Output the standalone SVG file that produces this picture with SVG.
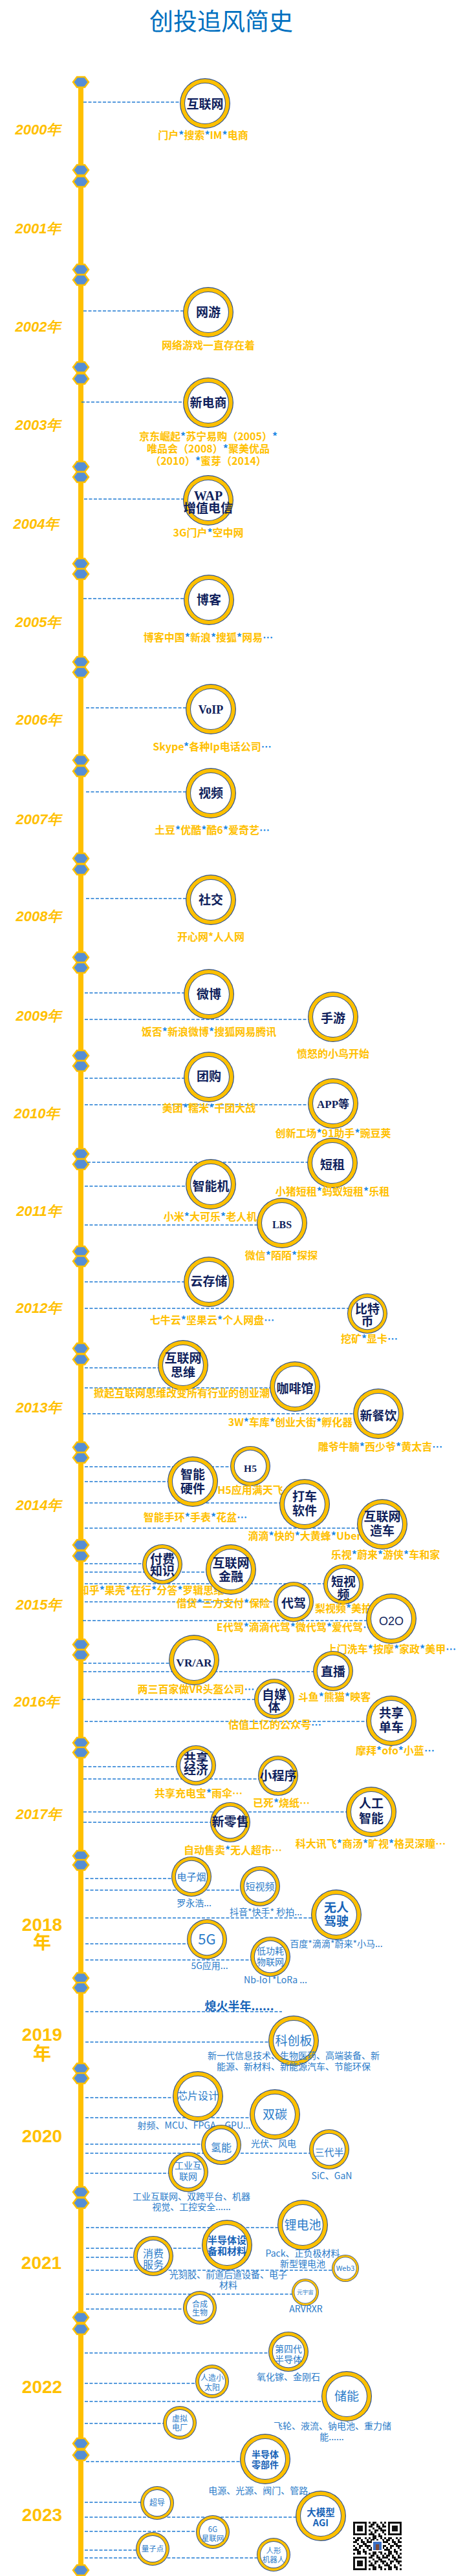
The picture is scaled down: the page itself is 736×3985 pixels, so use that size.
<svg xmlns="http://www.w3.org/2000/svg" xmlns:xlink="http://www.w3.org/1999/xlink" width="736" height="3985" viewBox="0 0 736 3985">
<style>
.ax{stroke:#FFC000;stroke-width:8}
#connectors line{stroke:#1E7AD2;stroke-width:1.6;stroke-dasharray:5 2.5;fill:none}
.hx{fill:#558ED5;stroke:#FFC000;stroke-width:2.5}
.yr{font-family:"Liberation Sans",sans-serif;font-style:italic;font-weight:bold;font-size:22px;fill:#FFC000;text-anchor:middle}
.yb{font-family:"Liberation Sans","Noto Sans CJK SC",sans-serif;font-weight:bold;font-size:28px;fill:#FFC000;text-anchor:middle}
.t{font-family:"Noto Sans CJK SC",sans-serif;font-weight:bold;fill:#0F1F5C;text-anchor:middle;font-size:19px}
.ts{font-family:"Liberation Serif","Noto Sans CJK SC",serif;font-weight:bold;fill:#0F1F5C;text-anchor:middle}
.s{font-family:"Noto Sans CJK SC",sans-serif;font-weight:bold;font-size:16px;fill:#FFC000;text-anchor:middle}
.b{fill:#1E88E5}
.bt{font-family:"Noto Sans CJK SC",sans-serif;fill:#2A7BC9;text-anchor:middle}
.bb{font-family:"Noto Sans CJK SC",sans-serif;font-weight:bold;fill:#1763B8;text-anchor:middle}
.bs{font-family:"Noto Sans CJK SC",sans-serif;font-size:14px;fill:#2A7BC9;text-anchor:middle}
</style>
<defs>
<polygon id="hx" class="hx" points="-12,0 -6,-8 6,-8 12,0 6,8 -6,8"/>
<g id="rL"><circle r="39" fill="#2F528F"/><circle r="37.8" fill="#FFC000"/><circle r="32" fill="#2F528F"/><circle r="31" fill="#fff"/></g>
<g id="rM"><circle r="31" fill="#2F528F"/><circle r="29.9" fill="#FFC000"/><circle r="25.2" fill="#2F528F"/><circle r="24.2" fill="#fff"/></g>
<g id="rS"><circle r="26" fill="#2F528F"/><circle r="25" fill="#FFC000"/><circle r="21" fill="#2F528F"/><circle r="20.1" fill="#fff"/></g>
<g id="rX"><circle r="21" fill="#2F528F"/><circle r="20.2" fill="#FFC000"/><circle r="17.4" fill="#2F528F"/><circle r="16.7" fill="#fff"/></g>
<pattern id="qrp" x="546" y="3901" width="24" height="24" patternUnits="userSpaceOnUse">
<path fill="#111" d="M0 0h3v3h-3zM6 0h6v3h-6zM18 0h3v3h-3zM3 3h6v3h-6zM12 3h3v3h-3zM21 3h3v3h-3zM0 6h6v3h-6zM12 6h6v3h-6zM21 6h3v3h-3zM6 9h3v3h-3zM15 9h6v3h-6zM0 12h3v3h-3zM9 12h6v3h-6zM18 12h6v3h-6zM3 15h3v3h-3zM9 15h3v3h-3zM21 15h3v3h-3zM0 18h9v3h-9zM15 18h3v3h-3zM6 21h6v3h-6zM15 21h6v3h-6z"/>
</pattern>
</defs>

<text x="342" y="47" font-family="'Noto Sans CJK SC',sans-serif" font-size="37" fill="#0070C0" text-anchor="middle">创投追风简史</text>

<g id="axis">
<line class="ax" x1="125" y1="127" x2="125" y2="3976"/>
<use href="#hx" x="125" y="127"/>
<use href="#hx" x="125" y="263"/><use href="#hx" x="125" y="281"/>
<use href="#hx" x="125" y="417"/><use href="#hx" x="125" y="433"/>
<use href="#hx" x="125" y="568"/><use href="#hx" x="125" y="586"/>
<use href="#hx" x="125" y="722"/><use href="#hx" x="125" y="738"/>
<use href="#hx" x="125" y="872"/><use href="#hx" x="125" y="888"/>
<use href="#hx" x="125" y="1024"/><use href="#hx" x="125" y="1040"/>
<use href="#hx" x="125" y="1176"/><use href="#hx" x="125" y="1193"/>
<use href="#hx" x="125" y="1328"/><use href="#hx" x="125" y="1345"/>
<use href="#hx" x="125" y="1481"/><use href="#hx" x="125" y="1497"/>
<use href="#hx" x="125" y="1633"/><use href="#hx" x="125" y="1649"/>
<use href="#hx" x="125" y="1785"/><use href="#hx" x="125" y="1801"/>
<use href="#hx" x="125" y="1936"/><use href="#hx" x="125" y="1951"/>
<use href="#hx" x="125" y="2086"/><use href="#hx" x="125" y="2103"/>
<use href="#hx" x="125" y="2239"/><use href="#hx" x="125" y="2255"/>
<use href="#hx" x="125" y="2390"/><use href="#hx" x="125" y="2407"/>
<use href="#hx" x="125" y="2544"/><use href="#hx" x="125" y="2560"/>
<use href="#hx" x="125" y="2696"/><use href="#hx" x="125" y="2711"/>
<use href="#hx" x="125" y="2871"/><use href="#hx" x="125" y="2885"/>
<use href="#hx" x="125" y="3060"/><use href="#hx" x="125" y="3075"/>
<use href="#hx" x="125" y="3200"/><use href="#hx" x="125" y="3215"/>
<use href="#hx" x="125" y="3391"/><use href="#hx" x="125" y="3408"/>
<use href="#hx" x="125" y="3585"/><use href="#hx" x="125" y="3603"/>
<use href="#hx" x="125" y="3780"/><use href="#hx" x="125" y="3798"/>
<use href="#hx" x="125" y="3976"/>
</g>

<g id="years">
<text class="yr" x="59" y="208">2000年</text>
<text class="yr" x="59" y="361">2001年</text>
<text class="yr" x="59" y="513">2002年</text>
<text class="yr" x="59" y="665">2003年</text>
<text class="yr" x="56" y="818">2004年</text>
<text class="yr" x="59" y="970">2005年</text>
<text class="yr" x="60" y="1121">2006年</text>
<text class="yr" x="60" y="1275">2007年</text>
<text class="yr" x="60" y="1425">2008年</text>
<text class="yr" x="60" y="1579">2009年</text>
<text class="yr" x="57" y="1730">2010年</text>
<text class="yr" x="60" y="1881">2011年</text>
<text class="yr" x="60" y="2031">2012年</text>
<text class="yr" x="60" y="2185">2013年</text>
<text class="yr" x="60" y="2336">2014年</text>
<text class="yr" x="60" y="2490">2015年</text>
<text class="yr" x="57" y="2640">2016年</text>
<text class="yr" x="60" y="2814">2017年</text>
<text class="yb" x="65" y="2987">2018</text><text class="yb" x="65" y="3015">年</text>
<text class="yb" x="65" y="3157">2019</text><text class="yb" x="65" y="3187">年</text>
<text class="yb" x="65" y="3314">2020</text>
<text class="yb" x="64" y="3510">2021</text>
<text class="yb" x="65" y="3702">2022</text>
<text class="yb" x="65" y="3900">2023</text>
</g>

<g id="connectors">
<line x1="129" y1="158" x2="317" y2="158"/>
<line x1="129" y1="481" x2="322" y2="481"/>
<line x1="126" y1="622" x2="322" y2="622"/>
<line x1="130" y1="772" x2="322" y2="772"/>
<line x1="129" y1="926" x2="323" y2="926"/>
<line x1="133" y1="1095" x2="326" y2="1095"/>
<line x1="133" y1="1225" x2="326" y2="1225"/>
<line x1="133" y1="1390" x2="326" y2="1390"/>
<line x1="131" y1="1536" x2="323" y2="1536"/>
<line x1="131" y1="1577" x2="515" y2="1577"/>
<line x1="131" y1="1668" x2="323" y2="1668"/>
<line x1="131" y1="1709" x2="515" y2="1709"/>
<line x1="135" y1="1798" x2="514" y2="1798"/>
<line x1="131" y1="1835" x2="326" y2="1835"/>
<line x1="131" y1="1895" x2="436" y2="1895"/>
<line x1="131" y1="1983" x2="323" y2="1983"/>
<line x1="131" y1="2024" x2="568" y2="2024"/>
<line x1="131" y1="2116" x2="283" y2="2116"/>
<line x1="131" y1="2147" x2="456" y2="2147"/>
<line x1="128" y1="2187" x2="585" y2="2187"/>
<line x1="131" y1="2269" x2="387" y2="2269"/>
<line x1="131" y1="2292" x2="298" y2="2292"/>
<line x1="131" y1="2325" x2="471" y2="2325"/>
<line x1="131" y1="2364" x2="591" y2="2364"/>
<line x1="131" y1="2419" x2="251" y2="2419"/>
<line x1="131" y1="2432" x2="357" y2="2432"/>
<line x1="131" y1="2450" x2="531" y2="2450"/>
<line x1="131" y1="2478" x2="454" y2="2478"/>
<line x1="128" y1="2507" x2="605" y2="2507"/>
<line x1="129" y1="2573" x2="300" y2="2573"/>
<line x1="129" y1="2586" x2="515" y2="2586"/>
<line x1="127" y1="2629" x2="424" y2="2629"/>
<line x1="131" y1="2663" x2="605" y2="2663"/>
<line x1="129" y1="2733" x2="303" y2="2733"/>
<line x1="129" y1="2752" x2="430" y2="2752"/>
<line x1="129" y1="2803" x2="574" y2="2803"/>
<line x1="129" y1="2819" x2="356" y2="2819"/>
<line x1="132" y1="2906" x2="296" y2="2906"/>
<line x1="132" y1="2924" x2="402" y2="2924"/>
<line x1="132" y1="2967" x2="520" y2="2967"/>
<line x1="132" y1="3007" x2="320" y2="3007"/>
<line x1="132" y1="3032" x2="418" y2="3032"/>
<line x1="132" y1="3112" x2="436" y2="3112"/>
<line x1="132" y1="3159" x2="454" y2="3159"/>
<line x1="132" y1="3245" x2="306" y2="3245"/>
<line x1="132" y1="3276" x2="425" y2="3276"/>
<line x1="132" y1="3317" x2="342" y2="3317"/>
<line x1="132" y1="3331" x2="509" y2="3331"/>
<line x1="132" y1="3362" x2="291" y2="3362"/>
<line x1="133" y1="3446" x2="468" y2="3446"/>
<line x1="133" y1="3478" x2="351" y2="3478"/>
<line x1="133" y1="3492" x2="237" y2="3492"/>
<line x1="133" y1="3512" x2="534" y2="3512"/>
<line x1="133" y1="3549" x2="472" y2="3549"/>
<line x1="133" y1="3572" x2="309" y2="3572"/>
<line x1="131" y1="3640" x2="446" y2="3640"/>
<line x1="131" y1="3687" x2="328" y2="3687"/>
<line x1="131" y1="3715" x2="536" y2="3715"/>
<line x1="131" y1="3749" x2="278" y2="3749"/>
<line x1="133" y1="3808" x2="410" y2="3808"/>
<line x1="131" y1="3871" x2="243" y2="3871"/>
<line x1="131" y1="3894" x2="496" y2="3894"/>
<line x1="131" y1="3916" x2="329" y2="3916"/>
<line x1="131" y1="3945" x2="236" y2="3945"/>
<line x1="131" y1="3957" x2="423" y2="3957"/>
</g>

<g id="n2000"><use href="#rL" x="317" y="160"/><text class="t" x="317" y="168">互联网</text>
<text class="s" x="314" y="215">门户<tspan class="b">*</tspan>搜索<tspan class="b">*</tspan>IM<tspan class="b">*</tspan>电商</text></g>
<g id="n2002"><use href="#rL" x="322" y="483"/><text class="t" x="322" y="490">网游</text>
<text class="s" x="322" y="540">网络游戏一直存在着</text></g>
<g id="n2003"><use href="#rL" x="322" y="623"/><text class="t" x="322" y="630">新电商</text>
<text class="s" x="322" y="681">京东崛起<tspan class="b">*</tspan>苏宁易购（2005）<tspan class="b">*</tspan></text>
<text class="s" x="322" y="700">唯品会（2008）<tspan class="b">*</tspan>聚美优品</text>
<text class="s" x="322" y="719">（2010）<tspan class="b">*</tspan>蜜芽（2014）</text></g>
<g id="n2004"><use href="#rL" x="322" y="774"/><text class="ts" x="322" y="774" font-size="20">WAP</text><text class="t" x="322" y="793" font-size="15">增值电信</text>
<text class="s" x="322" y="830">3G门户<tspan class="b">*</tspan>空中网</text></g>
<g id="n2005"><use href="#rL" x="323" y="928"/><text class="t" x="323" y="935">博客</text>
<text class="s" x="322" y="992">博客中国<tspan class="b">*</tspan>新浪<tspan class="b">*</tspan>搜狐<tspan class="b">*</tspan>网易<tspan class="b">…</tspan></text></g>
<g id="n2006"><use href="#rL" x="326" y="1097"/><text class="ts" x="326" y="1104" font-size="18">VoIP</text>
<text class="s" x="328" y="1161">Skype<tspan class="b">*</tspan>各种Ip电话公司<tspan class="b">…</tspan></text></g>
<g id="n2007"><use href="#rL" x="326" y="1227"/><text class="t" x="326" y="1234">视频</text>
<text class="s" x="328" y="1290">土豆<tspan class="b">*</tspan>优酷<tspan class="b">*</tspan>酷6<tspan class="b">*</tspan>爱奇艺<tspan class="b">…</tspan></text></g>
<g id="n2008"><use href="#rL" x="326" y="1392"/><text class="t" x="326" y="1399">社交</text>
<text class="s" x="326" y="1455">开心网*人人网</text></g>
<g id="n2009a"><use href="#rL" x="323" y="1538"/><text class="t" x="323" y="1545">微博</text>
<text class="s" x="323" y="1602">饭否<tspan class="b">*</tspan>新浪微博<tspan class="b">*</tspan>搜狐网易腾讯</text></g>
<g id="n2009b"><use href="#rL" x="515" y="1573"/><text class="t" x="515" y="1582">手游</text>
<text class="s" x="515" y="1636">愤怒的小鸟开始</text></g>
<g id="n2010a"><use href="#rL" x="323" y="1666"/><text class="t" x="323" y="1672">团购</text>
<text class="s" x="323" y="1720">美团<tspan class="b">*</tspan>糯米<tspan class="b">*</tspan>千团大战</text></g>
<g id="n2010b"><use href="#rL" x="515" y="1707"/><text class="ts" x="515" y="1714" font-size="17">APP<tspan font-family="'Noto Sans CJK SC',sans-serif">等</tspan></text>
<text class="s" x="515" y="1759">创新工场<tspan class="b">*</tspan>91助手<tspan class="b">*</tspan>豌豆荚</text></g>
<g id="n2011a"><use href="#rL" x="514" y="1799"/><text class="t" x="514" y="1809">短租</text>
<text class="s" x="514" y="1849">小猪短租<tspan class="b">*</tspan>蚂蚁短租<tspan class="b">*</tspan>乐租</text></g>
<g id="n2011b"><use href="#rL" x="326" y="1832"/><text class="t" x="326" y="1842">智能机</text>
<text class="s" x="325" y="1888">小米<tspan class="b">*</tspan>大可乐<tspan class="b">*</tspan>老人机</text></g>
<g id="n2011c"><use href="#rL" x="436" y="1892"/><text class="ts" x="436" y="1900" font-size="16">LBS</text>
<text class="s" x="435" y="1948">微信<tspan class="b">*</tspan>陌陌<tspan class="b">*</tspan>探探</text></g>
<g id="n2012a"><use href="#rL" x="323" y="1983"/><text class="t" x="323" y="1989">云存储</text>
<text class="s" x="328" y="2048">七牛云<tspan class="b">*</tspan>坚果云<tspan class="b">*</tspan>个人网盘<tspan class="b">…</tspan></text></g>
<g id="n2012b"><use href="#rM" x="568" y="2032"/><text class="t" x="568" y="2032" font-size="16.5">比特</text><text class="t" x="568" y="2051" font-size="16.5">币</text>
<text class="s" x="571" y="2077" font-size="14">挖矿<tspan class="b">*</tspan>显卡<tspan class="b">…</tspan></text></g>
<g id="n2013a"><use href="#rL" x="283" y="2112"/><text class="t" x="283" y="2108">互联网</text><text class="t" x="283" y="2130">思维</text>
<text class="s" x="281" y="2161">掀起互联网思维改变所有行业的创业潮</text></g>
<g id="n2013b"><use href="#rL" x="456" y="2145"/><text class="t" x="456" y="2155">咖啡馆</text>
<text class="s" x="449" y="2206">3W<tspan class="b">*</tspan>车库<tspan class="b">*</tspan>创业大街<tspan class="b">*</tspan>孵化器</text></g>
<g id="n2013c"><use href="#rL" x="585" y="2187"/><text class="t" x="585" y="2197">新餐饮</text>
<text class="s" x="588" y="2244">雕爷牛腩<tspan class="b">*</tspan>西少爷<tspan class="b">*</tspan>黄太吉<tspan class="b">…</tspan></text></g>
<g id="n2014a"><use href="#rL" x="298" y="2292"/><text class="t" x="298" y="2288">智能</text><text class="t" x="298" y="2310">硬件</text>
<text class="s" x="302" y="2353">智能手环<tspan class="b">*</tspan>手表<tspan class="b">*</tspan>花盆<tspan class="b">…</tspan></text></g>
<g id="n2014b"><use href="#rM" x="387" y="2268"/><text class="ts" x="387" y="2277" font-size="15.5">H5</text>
<text class="s" x="387" y="2311" font-size="15">H5应用满天飞</text></g>
<g id="n2014c"><use href="#rL" x="471" y="2327"/><text class="t" x="471" y="2322">打车</text><text class="t" x="471" y="2344">软件</text>
<text class="s" x="471" y="2382">滴滴<tspan class="b">*</tspan>快的<tspan class="b">*</tspan>大黄蜂<tspan class="b">*</tspan>Uber</text></g>
<g id="n2014d"><use href="#rL" x="591" y="2358"/><text class="t" x="591" y="2353">互联网</text><text class="t" x="591" y="2375">造车</text>
<text class="s" x="596" y="2411">乐视<tspan class="b">*</tspan>蔚来<tspan class="b">*</tspan>游侠<tspan class="b">*</tspan>车和家</text></g>
<g id="n2015a"><use href="#rM" x="251" y="2420"/><text class="t" x="251" y="2419" font-size="16">付费</text><text class="t" x="251" y="2437" font-size="16">知识</text>
<text class="s" x="234" y="2466" font-size="15">知乎<tspan class="b">*</tspan>果壳<tspan class="b">*</tspan>在行<tspan class="b">*</tspan>分答<tspan class="b">*</tspan>罗辑思维</text></g>
<g id="n2015b"><use href="#rL" x="357" y="2428"/><text class="t" x="357" y="2425">互联网</text><text class="t" x="357" y="2446">金融</text>
<text class="s" x="345" y="2486">借贷<tspan class="b">*</tspan>三方支付<tspan class="b">*</tspan>保险</text></g>
<g id="n2015c"><use href="#rM" x="531" y="2451"/><text class="t" x="531" y="2454" font-size="16">短视</text><text class="t" x="531" y="2474" font-size="16">频</text>
<text class="s" x="531" y="2494">梨视频<tspan class="b">*</tspan>美拍</text></g>
<g id="n2015d"><use href="#rM" x="454" y="2478"/><text class="t" x="454" y="2487" font-size="16">代驾</text>
<text class="s" x="456" y="2523" font-size="15">E代驾<tspan class="b">*</tspan>滴滴代驾<tspan class="b">*</tspan>微代驾<tspan class="b">*</tspan>爱代驾<tspan class="b">…</tspan></text></g>
<g id="n2015e"><use href="#rL" x="605" y="2504"/><text x="605" y="2514" font-family="'Liberation Sans',sans-serif" font-size="18" fill="#0F1F5C" text-anchor="middle">O2O</text>
<text class="s" x="605" y="2557">上门洗车<tspan class="b">*</tspan>按摩<tspan class="b">*</tspan>家政<tspan class="b">*</tspan>美甲<tspan class="b">…</tspan></text></g>
<g id="n2016a"><use href="#rL" x="300" y="2568"/><text class="ts" x="300" y="2578" font-size="17.5">VR/AR</text>
<text class="s" x="303" y="2619">两三百家做VR头盔公司<tspan class="b">…</tspan></text></g>
<g id="n2016b"><use href="#rM" x="515" y="2585"/><text class="t" x="515" y="2593" font-size="16">直播</text>
<text class="s" x="517" y="2631">斗鱼<tspan class="b">*</tspan>熊猫<tspan class="b">*</tspan>映客</text></g>
<g id="n2016c"><use href="#rM" x="424" y="2628"/><text class="t" x="424" y="2629" font-size="16">自媒</text><text class="t" x="424" y="2648" font-size="16">体</text>
<text class="s" x="425" y="2674">估值上亿的公众号<tspan class="b">…</tspan></text></g>
<g id="n2016d"><use href="#rL" x="605" y="2662"/><text class="t" x="605" y="2657">共享</text><text class="t" x="605" y="2679">单车</text>
<text class="s" x="611" y="2714">摩拜<tspan class="b">*</tspan>ofo<tspan class="b">*</tspan>小蓝<tspan class="b">…</tspan></text></g>
<g id="n2017a"><use href="#rM" x="303" y="2731"/><text class="t" x="303" y="2727" font-size="14.5">共享</text><text class="t" x="303" y="2745" font-size="14.5">经济</text>
<text class="s" x="307" y="2780">共享充电宝<tspan class="b">*</tspan>雨伞…</text></g>
<g id="n2017b"><use href="#rM" x="430" y="2747"/><text class="t" x="430" y="2754" font-size="15">小程序</text>
<text class="s" x="435" y="2795">已死<tspan class="b">*</tspan>烧纸…</text></g>
<g id="n2017c"><use href="#rM" x="356" y="2819"/><text class="t" x="356" y="2825" font-size="15">新零售</text>
<text class="s" x="360" y="2868">自动售卖<tspan class="b">*</tspan>无人超市…</text></g>
<g id="n2017d"><use href="#rL" x="574" y="2803"/><text class="t" x="574" y="2797" font-weight="normal" font-size="20">人工</text><text class="t" x="574" y="2820">智能</text>
<text class="s" x="573" y="2858">科大讯飞<tspan class="b">*</tspan>商汤<tspan class="b">*</tspan>旷视<tspan class="b">*</tspan>格灵深瞳…</text></g>

<g id="n2018a"><use href="#rM" x="296" y="2903"/><text class="bt" x="296" y="2909" font-size="15">电子烟</text>
<text class="bs" x="300" y="2949">罗永浩...</text></g>
<g id="n2018b"><use href="#rM" x="402" y="2918"/><text class="bt" x="402" y="2924" font-size="15">短视频</text>
<text class="bs" x="411" y="2963">抖音*快手* 秒拍...</text></g>
<g id="n2018c"><use href="#rL" x="520" y="2962"/><text class="bb" x="520" y="2958" font-size="19">无人</text><text class="bb" x="520" y="2979" font-size="19">驾驶</text>
<text class="bs" x="520" y="3012">百度*滴滴*蔚来*小马...</text></g>
<g id="n2018d"><use href="#rM" x="320" y="3000"/><text class="bt" x="320" y="3008" font-size="22">5G</text>
<text class="bs" x="324" y="3046">5G应用...</text></g>
<g id="n2018e"><use href="#rM" x="418" y="3027"/><text class="bt" x="418" y="3023" font-size="14">低功耗</text><text class="bt" x="418" y="3040" font-size="14">物联网</text>
<text class="bs" x="426" y="3068">Nb-IoT*LoRa ...</text></g>
<g id="n2019a"><text class="bb" x="370" y="3110" font-size="18">熄火半年......</text></g>
<g id="n2019b"><use href="#rL" x="454" y="3157"/><text class="bt" x="454" y="3164" font-size="19">科创板</text>
<text class="bs" x="454" y="3185" font-size="13.5">新一代信息技术、生物医药、高端装备、新</text>
<text class="bs" x="454" y="3202" font-size="13.5">能源、新材料、新能源汽车、节能环保</text></g>
<g id="n2020a"><use href="#rL" x="306" y="3243"/><text class="bt" x="306" y="3248" font-size="16">芯片设计</text>
<text class="bs" x="300" y="3293" font-size="14.5">射频、MCU、FPGA、GPU...</text></g>
<g id="n2020b"><use href="#rL" x="425" y="3271"/><text class="bt" x="425" y="3278" font-size="19">双碳</text>
<text class="bs" x="423" y="3321">光伏、风电</text></g>
<g id="n2020c"><use href="#rM" x="342" y="3318"/><text class="bt" x="342" y="3328" font-size="16">氢能</text></g>
<g id="n2020d"><use href="#rM" x="509" y="3325"/><text class="bt" x="509" y="3335" font-size="15">三代半</text>
<text class="bs" x="513" y="3371" font-size="15">SiC、GaN</text></g>
<g id="n2020e"><use href="#rM" x="291" y="3360"/><text class="bt" x="291" y="3355" font-size="14">工业互</text><text class="bt" x="291" y="3372" font-size="14">联网</text>
<text class="bs" x="296" y="3403">工业互联网、双跨平台、机器</text>
<text class="bs" x="296" y="3419">视觉、工控安全......</text></g>
<g id="n2021a"><use href="#rL" x="468" y="3442"/><text class="bt" x="468" y="3449" font-size="19">锂电池</text>
<text class="bs" x="468" y="3491">Pack、正负极材料</text>
<text class="bs" x="468" y="3507">新型锂电池</text></g>
<g id="n2021b"><use href="#rL" x="351" y="3473"/><text class="bb" x="351" y="3471" font-size="15">半导体设</text><text class="bb" x="351" y="3488" font-size="15">备和材料</text>
<text class="bs" x="353" y="3524">光刻胶、前道后道设备、电子</text>
<text class="bs" x="353" y="3540">材料</text></g>
<g id="n2021c"><use href="#rM" x="237" y="3490"/><text class="bt" x="237" y="3492" font-size="16">消费</text><text class="bt" x="237" y="3509" font-size="16">服务</text></g>
<g id="n2021d"><use href="#rX" x="534" y="3509"/><text class="bt" x="534" y="3513" font-size="11">Web3</text></g>
<g id="n2021e"><use href="#rX" x="472" y="3546"/><text class="bt" x="472" y="3549" font-size="8.5">元宇宙</text>
<text class="bs" x="473" y="3577" font-size="15">ARVRXR</text></g>
<g id="n2021f"><use href="#rS" x="309" y="3570"/><text class="bt" x="309" y="3569" font-size="12">合成</text><text class="bt" x="309" y="3582" font-size="12">生物</text></g>
<g id="n2022a"><use href="#rM" x="446" y="3638"/><text class="bt" x="446" y="3639" font-size="14">第四代</text><text class="bt" x="446" y="3655" font-size="14">半导体</text>
<text class="bs" x="446" y="3682">氧化镓、金刚石</text></g>
<g id="n2022b"><use href="#rS" x="328" y="3684"/><text class="bt" x="328" y="3683" font-size="12">人造小</text><text class="bt" x="328" y="3698" font-size="12">太阳</text></g>
<g id="n2022c"><use href="#rL" x="536" y="3707"/><text class="bt" x="536" y="3714" font-size="19">储能</text>
<text class="bs" x="514" y="3758">飞轮、液流、钠电池、重力储</text>
<text class="bs" x="513" y="3775">能......</text></g>
<g id="n2022d"><use href="#rS" x="278" y="3748"/><text class="bt" x="278" y="3746" font-size="12">虚拟</text><text class="bt" x="278" y="3760" font-size="12">电厂</text></g>
<g id="n2023a"><use href="#rL" x="410" y="3804"/><text class="bb" x="410" y="3802" font-size="14">半导体</text><text class="bb" x="410" y="3818" font-size="14">零部件</text>
<text class="bs" x="405" y="3858">电源、光源、阀门、管路...</text></g>
<g id="n2023b"><use href="#rS" x="243" y="3872"/><text class="bt" x="243" y="3876" font-size="12">超导</text></g>
<g id="n2023c"><use href="#rL" x="496" y="3892"/><text class="bb" x="496" y="3892" font-size="14.5">大模型</text><text class="bb" x="496" y="3908" font-size="14.5">AGI</text></g>
<g id="n2023d"><use href="#rS" x="329" y="3917"/><text class="bt" x="329" y="3917" font-size="11.5">6G</text><text class="bt" x="329" y="3931" font-size="11.5">星联网</text></g>
<g id="n2023e"><use href="#rS" x="236" y="3943"/><text class="bt" x="236" y="3947" font-size="11.5">量子点</text></g>
<g id="n2023f"><use href="#rS" x="423" y="3952"/><text class="bt" x="423" y="3950" font-size="11.5">人形</text><text class="bt" x="423" y="3964" font-size="11.5">机器人</text></g>

<g id="qr">
<rect x="546" y="3901" width="75" height="75" fill="#fff"/>
<rect x="546" y="3901" width="75" height="75" fill="url(#qrp)"/>
<rect x="546" y="3901" width="24" height="24" fill="#fff"/>
<rect x="597" y="3901" width="24" height="24" fill="#fff"/>
<rect x="546" y="3952" width="24" height="24" fill="#fff"/>
<g fill="#111">
<path d="M546 3901h21v21h-21zM549 3904v15h15v-15z" fill-rule="evenodd"/><rect x="552" y="3907" width="9" height="9"/>
<path d="M600 3901h21v21h-21zM603 3904v15h15v-15z" fill-rule="evenodd"/><rect x="606" y="3907" width="9" height="9"/>
<path d="M546 3955h21v21h-21zM549 3958v15h15v-15z" fill-rule="evenodd"/><rect x="552" y="3961" width="9" height="9"/>
</g>
<rect x="575" y="3930" width="17" height="17" fill="#fff"/>
<rect x="577" y="3932" width="13" height="13" fill="#3B6FC4"/>
<rect x="581" y="3936" width="5" height="9" fill="#7A4A3A"/>
</g>
</svg>
